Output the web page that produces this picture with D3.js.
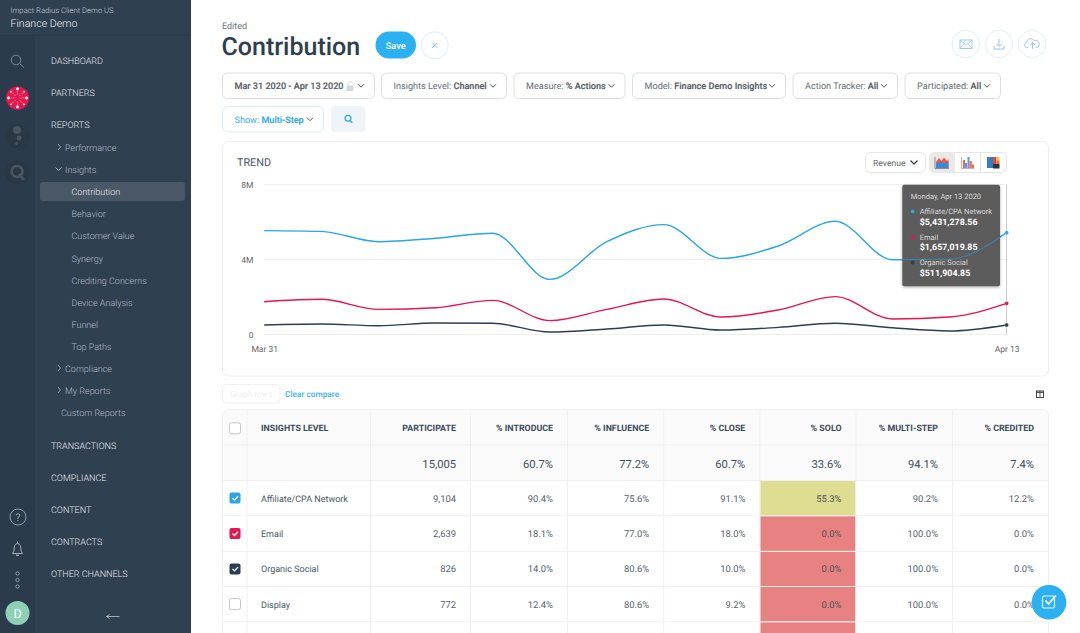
<!DOCTYPE html>
<html lang="en">
<head>
  <meta charset="UTF-8">
  <title>Contribution</title>
  <script src="https://d3js.org/d3.v7.min.js"></script>
  <style>
    html, body { margin: 0; padding: 0; background: #fff; overflow: hidden; }
    svg { display: block; font-family: Roboto, sans-serif; }
    text { text-rendering: geometricPrecision; }
    .axis path, .axis line { display: none; }
    .axis text { font-family: Roboto, sans-serif; font-size: 8.5px; fill: #666; }
  </style>
</head>
<body>
  <svg id="page" width="1080" height="633"></svg>

  <script>
    // chart values
    const days = ["Mar 31", "Apr 1", "Apr 2", "Apr 3", "Apr 4", "Apr 5", "Apr 6", "Apr 7", "Apr 8", "Apr 9", "Apr 10", "Apr 11", "Apr 12", "Apr 13"];
    const affiliate = [5.54, 5.50, 4.95, 5.13, 5.40, 2.94, 4.95, 5.86, 4.06, 4.72, 6.04, 3.99, 4.02, 5.43];
    const email = [1.75, 1.88, 1.34, 1.43, 1.82, 0.74, 1.34, 1.89, 0.93, 1.31, 2.02, 0.83, 0.93, 1.66];
    const organic = [0.51, 0.56, 0.47, 0.61, 0.60, 0.13, 0.29, 0.51, 0.24, 0.38, 0.60, 0.36, 0.19, 0.51];
    const yTicks = [0, 4, 8];
    const yTickLabels = ["0", "4M", "8M"];
    const xTicks = ["Mar 31", "Apr 13"];

    const tooltipDate = "Monday, Apr 13 2020";
    const tooltipNames = ["Affiliate/CPA Network", "Email", "Organic Social"];
    const tooltipValues = ["$5,431,278.56", "$1,657,019.85", "$511,904.85"];

    // table values
    const tableHeaders = ["PARTICIPATE", "% INTRODUCE", "% INFLUENCE", "% CLOSE", "% SOLO", "% MULTI-STEP", "% CREDITED"];
    const tableTotals = ["15,005", "60.7%", "77.2%", "60.7%", "33.6%", "94.1%", "7.4%"];
    const rowNames = ["Affiliate/CPA Network", "Email", "Organic Social", "Display"];
    const rowParticipate = ["9,104", "2,639", "826", "772"];
    const rowIntroduce = ["90.4%", "18.1%", "14.0%", "12.4%"];
    const rowInfluence = ["75.6%", "77.0%", "80.6%", "80.6%"];
    const rowClose = ["91.1%", "18.0%", "10.0%", "9.2%"];
    const rowSolo = ["55.3%", "0.0%", "0.0%", "0.0%"];
    const rowMulti = ["90.2%", "100.0%", "100.0%", "100.0%"];
    const rowCredited = ["12.2%", "0.0%", "0.0%", "0.0%"];

    // navigation and filters
    const navItems = [
      ["DASHBOARD", 60, 51, 1], ["PARTNERS", 92, 51, 1], ["REPORTS", 124, 51, 1],
      ["Performance", 147, 65, 0], ["Insights", 169, 65, 0], ["Contribution", 191, 71.5, 2],
      ["Behavior", 213, 71.5, 0], ["Customer Value", 235, 71.5, 0], ["Synergy", 258, 71.5, 0],
      ["Crediting Concerns", 280, 71.5, 0], ["Device Analysis", 302, 71.5, 0], ["Funnel", 324, 71.5, 0],
      ["Top Paths", 346, 71.5, 0], ["Compliance", 368, 65, 0], ["My Reports", 390, 65, 0],
      ["Custom Reports", 412, 61, 0], ["TRANSACTIONS", 445, 51, 1], ["COMPLIANCE", 477, 51, 1],
      ["CONTENT", 509, 51, 1], ["CONTRACTS", 541, 51, 1], ["OTHER CHANNELS", 573, 51, 1]
    ];
    const filters = [
      {x0: 222.5, x1: 374.5, y: 73, label: "", bold: "Mar 31 2020 - Apr 13 2020", lock: true},
      {x0: 381.5, x1: 506.5, y: 73, label: "Insights Level: ", bold: "Channel"},
      {x0: 514, x1: 625, y: 73, label: "Measure: ", bold: "% Actions"},
      {x0: 632.5, x1: 785.5, y: 73, label: "Model: ", bold: "Finance Demo Insights"},
      {x0: 793, x1: 897.5, y: 73, label: "Action Tracker: ", bold: "All"},
      {x0: 905, x1: 1000.5, y: 73, label: "Participated: ", bold: "All"},
      {x0: 222.5, x1: 323.5, y: 106.5, label: "Show: ", bold: "Multi-Step", blue: true}
    ];

    const blue = "#2ba5e4", red = "#e4154f", navy = "#2c3e54", sky = "#2bb1f2";
    const svg = d3.select("#page");

    function chevron(g, x, y, color) {
      g.append("path")
        .attr("d", `M${x - 3},${y - 1.5}L${x},${y + 1.5}L${x + 3},${y - 1.5}`)
        .attr("fill", "none").attr("stroke", color).attr("stroke-width", 1);
    }

    // ---- sidebar ----
    const side = svg.append("g");
    side.append("rect").attr("width", 191).attr("height", 633).attr("fill", "#2f4051");
    side.append("rect").attr("y", 35).attr("width", 35).attr("height", 598).attr("fill", "#2c3b4b");
    side.append("rect").attr("y", 34.5).attr("width", 191).attr("height", 1).attr("fill", "#293847");
    side.append("rect").attr("x", 40).attr("y", 182).attr("width", 145).attr("height", 19).attr("rx", 3).attr("fill", "#4a5867");

    side.append("text").attr("x", 10.5).attr("y", 13).attr("font-size", 7.7).attr("font-weight", 300).attr("fill", "#c9d0d6").text("Impact Radius Client Demo US");
    side.append("text").attr("x", 10.5).attr("y", 26.5).attr("font-size", 10.6).attr("font-weight", 300).attr("fill", "#eef1f3").text("Finance Demo");

    side.selectAll("text.nav").data(navItems).enter().append("text")
      .attr("class", "nav")
      .attr("x", d => d[2]).attr("y", d => d[1] + 3.8)
      .attr("font-size", 9)
      .attr("font-weight", 300)
      .attr("fill", d => d[3] === 1 ? "#e6e9ec" : d[3] === 2 ? "#e9ecee" : "#b2bcc5")
      .text(d => d[0]);

    // sub menu arrows
    [[59, 147], [59, 368], [59, 390]].forEach(p => {
      side.append("path").attr("d", `M${p[0] - 1},${p[1] - 3}L${p[0] + 1.5},${p[1]}L${p[0] - 1},${p[1] + 3}`)
        .attr("fill", "none").attr("stroke", "#aab5bf").attr("stroke-width", 0.8);
    });
    chevron(side, 58.5, 169, "#aab5bf");

    // rail icons
    side.append("circle").attr("cx", 16).attr("cy", 60).attr("r", 4.8).attr("fill", "none").attr("stroke", "#8c98a3").attr("stroke-width", 0.8);
    side.append("line").attr("x1", 19.5).attr("y1", 63.5).attr("x2", 24).attr("y2", 67.5).attr("stroke", "#8c98a3").attr("stroke-width", 0.8);
    side.append("circle").attr("cx", 17.5).attr("cy", 98).attr("r", 11.5).attr("fill", "#e5174f");
    d3.range(8).forEach(i => {
      const a = i * Math.PI / 4;
      side.append("line")
        .attr("x1", 17.5 + 3 * Math.cos(a)).attr("y1", 98 + 3 * Math.sin(a))
        .attr("x2", 17.5 + 9 * Math.cos(a)).attr("y2", 98 + 9 * Math.sin(a))
        .attr("stroke", "#f7b6c8").attr("stroke-width", 0.7).attr("stroke-dasharray", "1.5 1");
      side.append("circle").attr("cx", 17.5 + 9 * Math.cos(a)).attr("cy", 98 + 9 * Math.sin(a))
        .attr("r", i % 2 ? 0.9 : 1.4).attr("fill", "#fff");
    });
    side.append("circle").attr("cx", 17.5).attr("cy", 136).attr("r", 12).attr("fill", "#2a3745");
    side.append("circle").attr("cx", 17).attr("cy", 130).attr("r", 4).attr("fill", "#4a5560");
    side.append("circle").attr("cx", 19).attr("cy", 138).attr("r", 2.5).attr("fill", "#4a5560");
    side.append("circle").attr("cx", 16.5).attr("cy", 143.5).attr("r", 1.4).attr("fill", "#4a5560");
    side.append("circle").attr("cx", 17.5).attr("cy", 172).attr("r", 12).attr("fill", "#2a3745");
    side.append("circle").attr("cx", 17).attr("cy", 171.5).attr("r", 5.5).attr("fill", "none").attr("stroke", "#4a5560").attr("stroke-width", 2.6);
    side.append("line").attr("x1", 19).attr("y1", 174).attr("x2", 24).attr("y2", 180).attr("stroke", "#4a5560").attr("stroke-width", 2.6);

    side.append("circle").attr("cx", 18).attr("cy", 517).attr("r", 8).attr("fill", "none").attr("stroke", "#aab5bf").attr("stroke-width", 0.8);
    side.append("text").attr("x", 18).attr("y", 520.8).attr("text-anchor", "middle").attr("font-size", 10.5).attr("font-weight", 300).attr("fill", "#c4ccd3").text("?");
    side.append("path").attr("d", "M12.5,553.5C14.5,551.5 14,548 14.5,546.5C15,544.5 16.5,543.5 17.5,543.5C18.5,543.5 20,544.5 20.5,546.5C21,548 20.5,551.5 22.5,553.5Z")
      .attr("fill", "none").attr("stroke", "#c4ccd3").attr("stroke-width", 0.8);
    side.append("line").attr("x1", 16).attr("x2", 19).attr("y1", 555.3).attr("y2", 555.3).attr("stroke", "#c4ccd3");
    side.append("line").attr("x1", 17.5).attr("x2", 17.5).attr("y1", 541.5).attr("y2", 543.5).attr("stroke", "#c4ccd3").attr("stroke-width", 0.8);
    [573.5, 580, 586.5].forEach(y => {
      side.append("circle").attr("cx", 17.5).attr("cy", y).attr("r", 1.7).attr("fill", "none").attr("stroke", "#aab5bf").attr("stroke-width", 0.7);
    });
    side.append("circle").attr("cx", 17.5).attr("cy", 613).attr("r", 12).attr("fill", "#8dd0b5");
    side.append("text").attr("x", 17.5).attr("y", 617.5).attr("text-anchor", "middle").attr("font-size", 12.5).attr("fill", "#fff").text("D");
    side.append("path").attr("d", "M119.5,616.5H106.5M106.5,616.5L109.5,614.5M106.5,616.5L109.5,618.5").attr("fill", "none").attr("stroke", "#d5dade").attr("stroke-width", 0.7);

    // ---- page header ----
    const head = svg.append("g");
    head.append("text").attr("x", 222).attr("y", 29).attr("font-size", 9).attr("fill", "#6c7885").text("Edited");
    head.append("text").attr("x", 221.5).attr("y", 54.5).attr("font-size", 25).attr("font-weight", 500).attr("fill", "#2c3e50").text("Contribution");
    head.append("rect").attr("x", 375.5).attr("y", 31.5).attr("width", 40.5).attr("height", 27).attr("rx", 13.5).attr("fill", sky);
    head.append("text").attr("x", 395.7).attr("y", 48.5).attr("text-anchor", "middle").attr("font-size", 9.3).attr("font-weight", 500).attr("fill", "#fff").text("Save");
    head.append("circle").attr("cx", 434.7).attr("cy", 45.3).attr("r", 13.5).attr("fill", "#fff").attr("stroke", "#d9effb");
    head.append("path").attr("d", "M432,42.6L437.4,48M437.4,42.6L432,48").attr("stroke", "#5fc0f0").attr("stroke-width", 0.8);

    [965.7, 999, 1032].forEach(cx => {
      head.append("circle").attr("cx", cx).attr("cy", 44).attr("r", 13.7).attr("fill", "#fff").attr("stroke", "#e1effb");
    });
    const iconColor = "#93c3ee";
    head.append("rect").attr("x", 960).attr("y", 40).attr("width", 12).attr("height", 8.5).attr("fill", "none").attr("stroke", iconColor).attr("stroke-width", 0.9);
    head.append("path").attr("d", "M960,40L966,45L972,40M960,48.5L964,44M972,48.5L968,44").attr("fill", "none").attr("stroke", iconColor).attr("stroke-width", 0.8);
    head.append("path").attr("d", "M999,39V46M996,43.5L999,46.5L1002,43.5M994,46V49H1004V46").attr("fill", "none").attr("stroke", iconColor).attr("stroke-width", 1);
    head.append("path").attr("d", "M1028,47.5H1027C1024,47.5 1024,43 1026.5,42.5C1027,38.5 1032,37.5 1034,40.5C1037,39.5 1040,42 1039,45C1039,46.5 1038,47.5 1036,47.5M1030,45.5L1032.5,42.5L1035,45M1032.5,43V49").attr("fill", "none").attr("stroke", iconColor).attr("stroke-width", 0.9);

    // ---- filter pills ----
    const pills = svg.append("g");
    filters.forEach(f => {
      const color = f.blue ? "#35b0f0" : "#666d75";
      const g = pills.append("g");
      g.append("rect").attr("x", f.x0).attr("y", f.y).attr("width", f.x1 - f.x0).attr("height", 25.5).attr("rx", 5)
        .attr("fill", "#fff").attr("stroke", f.blue ? "#d9eefb" : "#dcdfe2");
      const t = g.append("text").attr("x", f.x0 + 12).attr("y", f.y + 16).attr("font-size", 9.1).attr("fill", color);
      t.append("tspan").text(f.label);
      t.append("tspan").attr("font-weight", 500).attr("fill", f.blue ? "#2eaaee" : "#565d65").attr("stroke", f.blue ? "#2eaaee" : "#565d65").attr("stroke-width", 0.15).text(f.bold);
      chevron(g, f.x1 - 13.5, f.y + 12.7, "#555");
      if (f.lock) {
        g.append("rect").attr("x", 346.5).attr("y", 85.5).attr("width", 7).attr("height", 5.5).attr("fill", "#d5d7da");
        g.append("path").attr("d", "M348,85.5V83.5C348,81 352.5,81 352.5,83").attr("fill", "none").attr("stroke", "#d5d7da");
      }
    });
    pills.append("rect").attr("x", 331).attr("y", 106).attr("width", 34.5).attr("height", 26).attr("rx", 4).attr("fill", "#eff4f9");
    pills.append("circle").attr("cx", 348).attr("cy", 118.3).attr("r", 2.9).attr("fill", "none").attr("stroke", "#2ea8ea").attr("stroke-width", 1.3);
    pills.append("line").attr("x1", 350).attr("y1", 120.5).attr("x2", 352.3).attr("y2", 122.8).attr("stroke", "#2ea8ea").attr("stroke-width", 1.3);

    // ---- trend card ----
    const card = svg.append("g");
    card.append("rect").attr("x", 222.5).attr("y", 141.5).attr("width", 826).attr("height", 234.5).attr("rx", 6).attr("fill", "#fff").attr("stroke", "#eeeeee");
    card.append("text").attr("x", 237).attr("y", 166).attr("font-size", 10.8).attr("fill", "#4b5866").text("TREND");

    card.append("rect").attr("x", 865.5).attr("y", 152.5).attr("width", 60).attr("height", 20).attr("rx", 5).attr("fill", "#fff").attr("stroke", "#e6e6e6");
    card.append("text").attr("x", 873).attr("y", 165.5).attr("font-size", 8.6).attr("fill", "#666").text("Revenue");
    card.append("path").attr("d", "M910.5,160.5L914,164L917.5,160.5").attr("fill", "none").attr("stroke", "#444").attr("stroke-width", 1.3);
    card.append("rect").attr("x", 929.5).attr("y", 152.5).attr("width", 77).attr("height", 20).attr("rx", 5).attr("fill", "#fff").attr("stroke", "#e6e6e6");
    card.append("path").attr("d", "M934,152.5H955V172.5H934A4.5,4.5 0 0 1 929.5,168V157A4.5,4.5 0 0 1 934,152.5Z").attr("fill", "#e9e9e9");
    card.append("line").attr("x1", 980.5).attr("x2", 980.5).attr("y1", 152.5).attr("y2", 172.5).attr("stroke", "#e6e6e6");

    // mode icons
    card.append("path").attr("d", "M936,168V162L939,158L941.5,161L944,157.5L947,161L948.5,159V168Z").attr("fill", "#ef5a3c");
    card.append("path").attr("d", "M936,168V164L940,161.5L944,163.5L948.5,161.5V168Z").attr("fill", "#3f87d6");
    card.append("path").attr("d", "M935,157V168.5H949").attr("fill", "none").attr("stroke", "#666").attr("stroke-width", 0.7);
    [[963, 8, "#ef6a5a"], [965, 5, "#5f9fe0"], [967.5, 11, "#5f9fe0"], [969.7, 7, "#ef6a5a"], [971.9, 3.5, "#ef6a5a"]].forEach(b => {
      card.append("rect").attr("x", b[0]).attr("y", 168 - b[1]).attr("width", 2.1).attr("height", b[1]).attr("fill", b[2]);
    });
    card.append("path").attr("d", "M961.5,157V168.5H974.5").attr("fill", "none").attr("stroke", "#999").attr("stroke-width", 0.7);
    [[987, 157, 6, 11, "#2f7fd0"], [993, 157, 3.5, 7, "#e8432f"], [996.5, 157, 3, 3.5, "#f6c445"], [996.5, 160.5, 3, 3.5, "#e8732f"], [993, 164, 6.5, 4.5, "#333"]].forEach(b => {
      card.append("rect").attr("x", b[0]).attr("y", b[1]).attr("width", b[2]).attr("height", b[3]).attr("fill", b[4]);
    });

    const xScale = d3.scalePoint().domain(days).range([264.2, 1006.6]);
    const yScale = d3.scaleLinear().domain([0, 8]).range([334.5, 184.5]);

    card.selectAll("line.grid").data(yTicks).enter().append("line")
      .attr("class", "grid")
      .attr("x1", 264).attr("x2", 1006.6)
      .attr("y1", d => yScale(d)).attr("y2", d => yScale(d))
      .attr("stroke", "#f0f0f0");

    card.append("g").attr("class", "axis")
      .attr("transform", "translate(264,0)")
      .call(d3.axisLeft(yScale).tickValues(yTicks).tickSize(0).tickPadding(10.5)
        .tickFormat((d, i) => yTickLabels[i]));

    card.append("g").attr("class", "axis")
      .attr("transform", "translate(0,334.5)")
      .call(d3.axisBottom(xScale).tickValues(xTicks).tickSize(0).tickPadding(11.5));

    card.append("line")
      .attr("x1", xScale("Apr 13")).attr("x2", xScale("Apr 13"))
      .attr("y1", 184.5).attr("y2", 334.5)
      .attr("stroke", "#c9ccd0");

    const line = d3.line()
      .x((d, i) => xScale(days[i]))
      .y(d => yScale(d))
      .curve(d3.curveMonotoneX);

    const series = [
      {values: affiliate, color: blue},
      {values: email, color: red},
      {values: organic, color: navy}
    ];
    card.selectAll("path.series").data(series).enter().append("path")
      .attr("class", "series")
      .attr("d", d => line(d.values))
      .attr("fill", "none")
      .attr("stroke", d => d.color)
      .attr("stroke-width", 1.4);

    card.selectAll("circle.end").data(series).enter().append("circle")
      .attr("class", "end")
      .attr("cx", xScale("Apr 13"))
      .attr("cy", d => yScale(d.values[d.values.length - 1]))
      .attr("r", 2)
      .attr("fill", d => d.color)
      .attr("stroke", "#fff").attr("stroke-opacity", 0.5).attr("stroke-width", 0.5);

    // tooltip
    const defs = svg.append("defs");
    const shadow = defs.append("filter").attr("id", "tipShadow").attr("x", "-10%").attr("y", "-10%").attr("width", "120%").attr("height", "120%");
    shadow.append("feDropShadow").attr("dx", 0).attr("dy", 1).attr("stdDeviation", 1.6).attr("flood-opacity", 0.35);
    defs.append("clipPath").attr("id", "tipClip").append("rect")
      .attr("x", 902.3).attr("y", 184.7).attr("width", 97.7).attr("height", 101.5);
    const tip = svg.append("g");
    tip.append("rect").attr("x", 902.3).attr("y", 184.7).attr("width", 97.7).attr("height", 101.5).attr("rx", 2)
      .attr("fill", "#5c5c5c").attr("filter", "url(#tipShadow)");
    // the top line shows faintly through the tooltip
    tip.append("path")
      .attr("d", line(affiliate))
      .attr("clip-path", "url(#tipClip)")
      .attr("fill", "none").attr("stroke", blue).attr("stroke-opacity", 0.45).attr("stroke-width", 1.2);
    tip.append("text").attr("x", 910.7).attr("y", 199).attr("font-size", 7.5).attr("fill", "#d8d8d8").text(tooltipDate);
    const tipItems = tip.selectAll("g").data(tooltipNames).enter().append("g")
      .attr("transform", (d, i) => `translate(0,${i * 25.5})`);
    tipItems.append("circle").attr("cx", 912.7).attr("cy", 211.5).attr("r", 1.9).attr("fill", (d, i) => series[i].color);
    tipItems.append("text").attr("x", 919.7).attr("y", 214.2).attr("font-size", 7.5).attr("fill", "#d8d8d8").text(d => d);
    tipItems.append("text").attr("x", 919.7).attr("y", 224.7).attr("font-size", 8.9).attr("font-weight", 700).attr("fill", "#fff")
      .text((d, i) => tooltipValues[i]);

    // ---- table ----
    const table = svg.append("g");
    table.append("rect").attr("x", 222.5).attr("y", 384.5).attr("width", 57.5).attr("height", 18.5).attr("rx", 4).attr("fill", "#fff").attr("stroke", "#f1f1f1");
    table.append("text").attr("x", 230).attr("y", 397).attr("font-size", 8.4).attr("fill", "#efefef").text("Graph rows");
    table.append("text").attr("x", 285).attr("y", 397).attr("font-size", 8.3).attr("font-weight", 500).attr("fill", "#3cb5f5").text("Clear compare");
    table.append("rect").attr("x", 1036.5).attr("y", 391).attr("width", 7).attr("height", 6.5).attr("fill", "none").attr("stroke", "#333").attr("stroke-width", 0.9);
    table.append("line").attr("x1", 1040).attr("x2", 1040).attr("y1", 391).attr("y2", 397.5).attr("stroke", "#333").attr("stroke-width", 0.8);
    table.append("line").attr("x1", 1036.5).attr("x2", 1043.5).attr("y1", 392.3).attr("y2", 392.3).attr("stroke", "#333").attr("stroke-width", 1);

    const colEdges = [222.5, 247, 370.5, 470.5, 567.5, 663.7, 759.8, 856, 952.5, 1048.5];
    const rowEdges = [409.5, 445, 480.5, 515.7, 551.3, 586.5, 621.7, 640];
    const rowColumns = [rowParticipate, rowIntroduce, rowInfluence, rowClose, rowSolo, rowMulti, rowCredited];
    const soloCol = tableHeaders.indexOf("% SOLO");
    const rowY = i => (rowEdges[i + 2] + rowEdges[i + 3]) / 2;

    // header background with rounded top corners
    table.append("path").attr("d", "M228.5,409.5H1042.5A6,6 0 0 1 1048.5,415.5V480.5H222.5V415.5A6,6 0 0 1 228.5,409.5Z").attr("fill", "#fafafa");

    // solo heat cells
    const soloColor = v => parseFloat(v) > 0 ? "#dedd91" : "#e88282";
    rowSolo.concat(["0.0%"]).forEach((v, i) => {
      table.append("rect")
        .attr("x", colEdges[soloCol + 2] + 0.5).attr("y", rowEdges[i + 2] + 0.5)
        .attr("width", colEdges[soloCol + 3] - colEdges[soloCol + 2] - 1)
        .attr("height", rowEdges[i + 3] - rowEdges[i + 2] - 0.5)
        .attr("fill", soloColor(v));
    });

    // grid
    colEdges.forEach((x, i) => {
      const hasTop = i > 0 && i < colEdges.length - 1;
      table.append("line").attr("x1", x).attr("x2", x).attr("y1", hasTop ? 409.5 : 415).attr("y2", 640).attr("stroke", "#f0f0f0");
    });
    rowEdges.slice(1, -1).forEach(y => {
      table.append("line").attr("x1", 222.5).attr("x2", 1048.5).attr("y1", y).attr("y2", y).attr("stroke", "#f0f0f0");
    });
    table.append("path").attr("d", "M222.5,416V415.5A6,6 0 0 1 228.5,409.5H1042.5A6,6 0 0 1 1048.5,415.5V416").attr("fill", "none").attr("stroke", "#f0f0f0");

    // header row text
    table.append("text").attr("x", 261).attr("y", 430.6).attr("font-size", 8.85).attr("font-weight", 700).attr("fill", "#3a4a5c").text("INSIGHTS LEVEL");
    table.selectAll("text.head").data(tableHeaders).enter().append("text")
      .attr("class", "head")
      .attr("x", (d, i) => colEdges[i + 3] - 14.5).attr("y", 430.6)
      .attr("text-anchor", "end").attr("font-size", 8.85).attr("font-weight", 700).attr("fill", "#3a4a5c")
      .text(d => d);
    table.selectAll("text.total").data(tableTotals).enter().append("text")
      .attr("class", "total")
      .attr("x", (d, i) => colEdges[i + 3] - 14.5).attr("y", 467.5)
      .attr("text-anchor", "end").attr("font-size", 11.2).attr("fill", "#3f4d5d")
      .text(d => d);

    // body rows
    table.selectAll("text.rname").data(rowNames).enter().append("text")
      .attr("class", "rname")
      .attr("x", 261).attr("y", (d, i) => rowY(i) + 3.4)
      .attr("font-size", 9).attr("fill", "#4a5866")
      .text(d => d);
    rowColumns.forEach((col, c) => {
      table.selectAll(`text.c${c}`).data(col).enter().append("text")
        .attr("class", `c${c}`)
        .attr("x", colEdges[c + 3] - 14.5).attr("y", (d, i) => rowY(i) + 3.4)
        .attr("text-anchor", "end").attr("font-size", 9.4).attr("fill", c === soloCol ? "#4c5252" : "#56626f")
        .text(d => d);
    });

    // check boxes
    function checkbox(y, color) {
      table.append("rect").attr("x", 229.5).attr("y", y - 5.5).attr("width", 11).attr("height", 11).attr("rx", 2)
        .attr("fill", color || "#fff").attr("stroke", color || "#c4c6c8").attr("stroke-width", color ? 0 : 1);
      if (color) {
        table.append("path").attr("d", `M232.5,${y}L234.5,${y + 2}L238,${y - 1.8}`).attr("fill", "none").attr("stroke", "#fff").attr("stroke-width", 1.3);
      }
    }
    checkbox(428.3);
    [blue, red, navy, null].forEach((c, i) => checkbox(rowY(i), c));

    // floating button
    svg.append("circle").attr("cx", 1049).attr("cy", 602.3).attr("r", 17.3).attr("fill", sky);
    svg.append("rect").attr("x", 1042.5).attr("y", 596).attr("width", 12).attr("height", 12).attr("rx", 1.5).attr("fill", "none").attr("stroke", "#e9f7fe").attr("stroke-width", 1.2);
    svg.append("path").attr("d", "M1045.5,600.5L1048.5,604L1056,595.5").attr("fill", "none").attr("stroke", "#fff").attr("stroke-width", 1.8);
  </script>
</body>
</html>
